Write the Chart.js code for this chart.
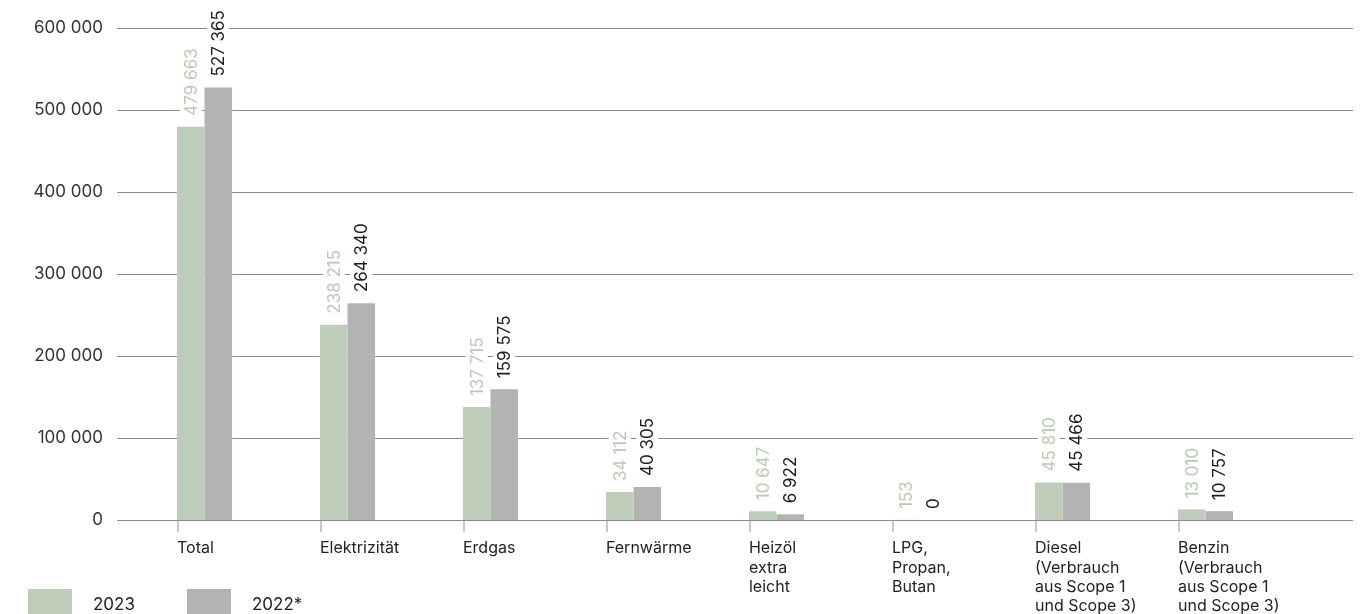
<!DOCTYPE html>
<html>
<head>
<meta charset="utf-8">
<script src="https://cdn.jsdelivr.net/npm/chart.js@4/dist/chart.umd.min.js"></script>
<style>
    html, body { margin: 0; padding: 0; background: #fff; overflow: hidden; }
    #wrap { width: 1361px; height: 614px; position: relative; }
</style>
</head>
<body>
<div id="wrap"><canvas id="energyChart"></canvas></div>
<script>
const categories = [
    "Total",
    "Elektrizität",
    "Erdgas",
    "Fernwärme",
    ["Heizöl", "extra", "leicht"],
    ["LPG,", "Propan,", "Butan"],
    ["Diesel", "(Verbrauch", "aus Scope 1", "und Scope 3)"],
    ["Benzin", "(Verbrauch", "aus Scope 1", "und Scope 3)"],
];
const values2023 = [479663, 238215, 137715, 34112, 10647, 153, 45810, 13010];
const values2022 = [527365, 264340, 159575, 40305, 6922, 0, 45466, 10757];
const seriesNames = ["2023", "2022*"];
const yTickValues = [0, 100000, 200000, 300000, 400000, 500000, 600000];

const FONT = "Inter, 'Noto Sans', sans-serif";
const barColors = ["#bdcdb9", "#b3b3b3"];
const valueColors = ["#b8cbb4", "#1c1c1c"];
const CAT_PCT = 0.385;
const CAT_W = 143;

function fmt(v) {
    return String(v).replace(/\B(?=(\d{3})+(?!\d))/g, " ");
}

// horizontal grid lines, a bit wider than the plot area
const gridLines = {
    id: "gridLines",
    beforeDatasetsDraw(chart) {
        const { ctx, chartArea, scales } = chart;
        ctx.save();
        ctx.strokeStyle = "#8c8c8c";
        ctx.lineWidth = 1;
        yTickValues.forEach((v) => {
            const y = Math.round(scales.y.getPixelForValue(v)) + 0.5;
            ctx.beginPath();
            ctx.moveTo(chartArea.left - 16, y);
            ctx.lineTo(chart.width - 8, y);
            ctx.stroke();
        });
        // small tick marks under each group
        ctx.strokeStyle = "#c8c8c8";
        ctx.lineWidth = 2;
        chart.getDatasetMeta(0).data.forEach((bar) => {
            const x = Math.round(bar.x - bar.width / 2) + 1;
            ctx.beginPath();
            ctx.moveTo(x, chartArea.bottom + 1);
            ctx.lineTo(x, chartArea.bottom + 12);
            ctx.stroke();
        });
        ctx.restore();
    },
};

// rotated value labels with white backing that cuts the grid lines
const valueLabels = {
    id: "valueLabels",
    afterDatasetsDraw(chart) {
        const { ctx } = chart;
        ctx.save();
        ctx.font = "17px " + FONT;
        chart.data.datasets.forEach((ds, di) => {
            chart.getDatasetMeta(di).data.forEach((bar, i) => {
                const text = fmt(ds.data[i]);
                const w = ctx.measureText(text).width;
                const bottom = bar.y - 11;
                ctx.save();
                ctx.translate(bar.x, bottom);
                ctx.rotate(-Math.PI / 2);
                ctx.fillStyle = "#fff";
                ctx.fillRect(-3, -11, w + 6, 22);
                ctx.fillStyle = valueColors[di];
                ctx.textAlign = "left";
                ctx.textBaseline = "middle";
                ctx.fillText(text, 0, 1);
                ctx.restore();
            });
        });
        ctx.restore();
    },
};

// legend at the bottom left, partly cut by the edge
const bottomLegend = {
    id: "bottomLegend",
    afterDraw(chart) {
        const { ctx } = chart;
        const starts = [28, 187];
        ctx.save();
        ctx.font = "17px " + FONT;
        ctx.textBaseline = "alphabetic";
        chart.data.datasets.forEach((ds, i) => {
            ctx.fillStyle = ds.backgroundColor;
            ctx.fillRect(starts[i], 589, 44, 30);
            ctx.fillStyle = "#222";
            ctx.fillText(ds.label, starts[i] + 65, 610);
        });
        ctx.restore();
    },
};

new Chart(document.getElementById("energyChart"), {
    type: "bar",
    data: {
        labels: categories,
        datasets: [
            { label: seriesNames[0], data: values2023, backgroundColor: barColors[0] },
            { label: seriesNames[1], data: values2022, backgroundColor: barColors[1] },
        ],
    },
    options: {
        responsive: true,
        maintainAspectRatio: false,
        animation: false,
        layout: { padding: { top: 28, right: 84, bottom: 0, left: 0 } },
        datasets: {
            bar: { categoryPercentage: CAT_PCT, barPercentage: 1, borderWidth: 0 },
        },
        plugins: {
            legend: { display: false },
            tooltip: { enabled: false },
        },
        scales: {
            x: {
                offset: true,
                grid: { display: false, drawTicks: false },
                border: { display: false },
                ticks: {
                    autoSkip: false,
                    maxRotation: 0,
                    minRotation: 0,
                    align: "start",
                    labelOffset: -(CAT_W * CAT_PCT) / 2,
                    padding: 19,
                    color: "#222",
                    font: { family: FONT, size: 16, lineHeight: 1.2 },
                },
                afterFit: (scale) => { scale.height = 94; },
            },
            y: {
                min: 0,
                max: 600000,
                // tick marks hidden, tickLength only sets the gap to the labels
                grid: { display: false, drawTicks: true, tickLength: 27 },
                border: { display: false },
                ticks: {
                    stepSize: 100000,
                    padding: 3,
                    color: "#333",
                    font: { family: FONT, size: 17 },
                    callback: (v) => fmt(v),
                },
                afterFit: (scale) => { scale.width = 133; },
            },
        },
    },
    plugins: [gridLines, valueLabels, bottomLegend],
});
</script>
</body>
</html>
